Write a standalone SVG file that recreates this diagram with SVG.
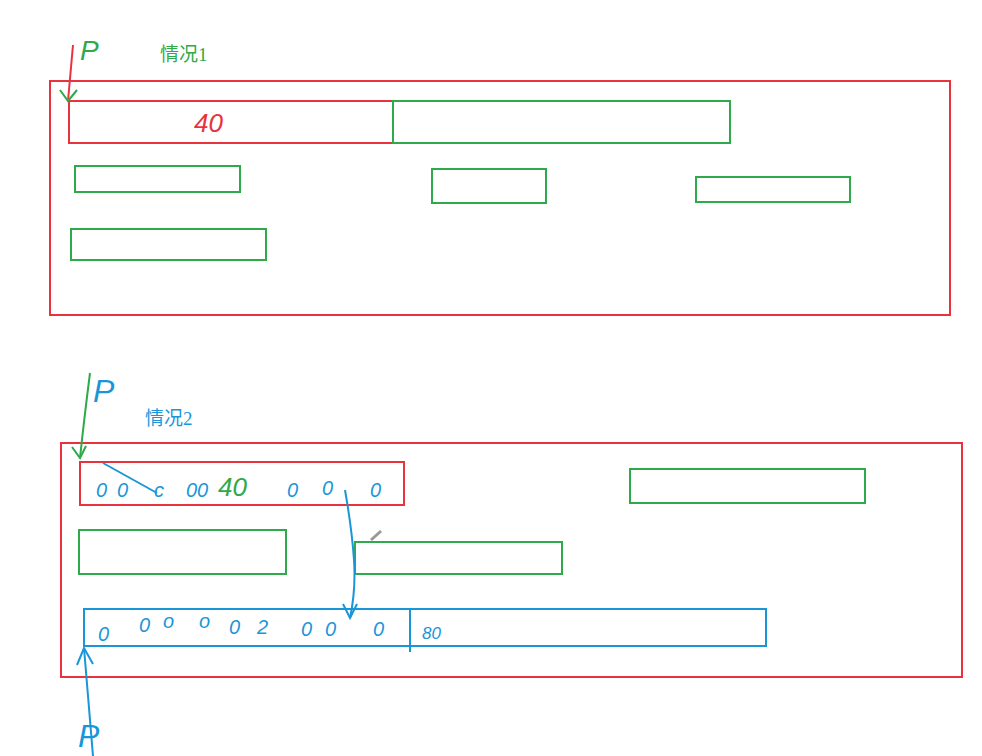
<svg xmlns="http://www.w3.org/2000/svg" width="982" height="756" viewBox="0 0 982 756">
<style>
.red{fill:none;stroke:#e8333f;stroke-width:2}
.grn{fill:none;stroke:#2eaa4a;stroke-width:2}
.blu{fill:none;stroke:#1a96d8;stroke-width:2}
.hw{font-family:"Liberation Sans",sans-serif;font-style:italic}
.cn{font-family:"Liberation Serif","Noto Sans CJK SC",serif;font-size:19px}
</style>
<rect width="982" height="756" fill="#ffffff"/>
<g id="case1">
  <rect class="red" x="50" y="81" width="900" height="234"/>
  <text class="cn" x="160" y="61" fill="#2eaa4a">情况1</text>
</g>
<g id="c1-box40"><rect class="red" x="69" y="101" width="324" height="42"/><text class="hw" x="194" y="132" font-size="26" fill="#e8333f">40</text></g>
<g id="c1-g1"><rect class="grn" x="393" y="101" width="337" height="42"/></g>
<g id="c1-g2"><rect class="grn" x="75" y="166" width="165" height="26"/></g>
<g id="c1-g3"><rect class="grn" x="432" y="169" width="114" height="34"/></g>
<g id="c1-g4"><rect class="grn" x="696" y="177" width="154" height="25"/></g>
<g id="c1-g5"><rect class="grn" x="71" y="229" width="195" height="31"/></g>
<g id="p1"><text class="hw" x="80" y="60" font-size="28" fill="#2eaa4a">P</text></g>

<g id="case2">
  <rect class="red" x="61" y="443" width="901" height="234"/>
  <text class="cn" x="145" y="425" fill="#1a96d8">情况2</text>
</g>
<g id="c2-red"><rect class="red" x="80" y="462" width="324" height="43"/>
  <text class="hw" font-size="20" fill="#1a96d8"><tspan x="96" y="497">0</tspan><tspan x="117" y="497">0</tspan><tspan x="154" y="497">c</tspan><tspan x="186" y="497">00</tspan><tspan x="287" y="497">0</tspan><tspan x="322" y="495">0</tspan><tspan x="370" y="497">0</tspan></text>
  <text class="hw" x="218" y="496" font-size="26" fill="#2eaa4a">40</text>
</g>
<g id="c2-g1"><rect class="grn" x="630" y="469" width="235" height="34"/></g>
<g id="c2-g2"><rect class="grn" x="79" y="530" width="207" height="44"/></g>
<g id="c2-g3"><rect class="grn" x="355" y="542" width="207" height="32"/></g>
<g id="c2-blue"><rect class="blu" x="84" y="609" width="682" height="37"/>
  <line class="blu" x1="410" y1="609" x2="410" y2="652"/>
  <text class="hw" font-size="20" fill="#1a96d8"><tspan x="98" y="641">0</tspan><tspan x="139" y="632">0</tspan><tspan x="163" y="628">o</tspan><tspan x="199" y="628">o</tspan><tspan x="229" y="634">0</tspan><tspan x="257" y="634">2</tspan><tspan x="301" y="636">0</tspan><tspan x="325" y="636">0</tspan><tspan x="373" y="636">0</tspan></text>
  <text class="hw" x="422" y="639" font-size="17" fill="#1a96d8">80</text>
</g>
<g id="p2"><text class="hw" x="93" y="402" font-size="32" fill="#1a96d8">P</text></g>
<g id="p3"><text class="hw" x="78" y="747" font-size="32" fill="#1a96d8">P</text></g>
<g id="connectors">
  <path d="M73 45 L68 101" stroke="#e8333f" stroke-width="2" fill="none"/>
  <path d="M60 90 L68 101 L77 90" class="grn"/>
  <path d="M90 373 Q84 420 80 458" class="grn"/>
  <path d="M72 447 L80 458 L86 446" class="grn"/>
  <path d="M345 490 Q352 530 354 560 Q356 590 350 618" class="blu"/>
  <path d="M343 604 L350 618 L357 604" class="blu"/>
  <path d="M103 463 L157 493" class="blu"/>
  <path d="M93 756 L84 648" class="blu"/>
  <path d="M77 665 L84 648 L93 664" class="blu"/>
  <path d="M371 540 L381 531" stroke="#999" stroke-width="3" fill="none"/>
</g>
</svg>
